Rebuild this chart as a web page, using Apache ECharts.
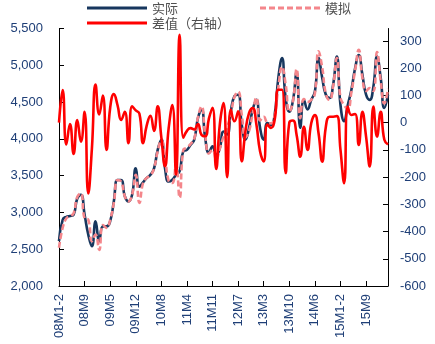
<!DOCTYPE html>
<html><head><meta charset="utf-8">
<script src="https://cdn.jsdelivr.net/npm/echarts@6/dist/echarts.min.js"></script>
<style>html,body{margin:0;padding:0;background:#fff}#c{width:435px;height:344px}</style>
</head><body><div id="c"></div>
<script>
// categories: monthly, Jan-Feb combined as M1-2
const years = ['08','09','10','11','12','13','14','15','16'];
const months = ['M1-2','M3','M4','M5','M6','M7','M8','M9','M10','M11','M12'];
const categories = [];
for (const y of years) for (const m of months) categories.push(y + m);
categories.length = 91; // 08M1-2 .. 16M4

const actual = [2610,2900,2940,2950,2970,3190,3240,2970,2700,2540,2880,2610,2810,2810,2880,3150,3440,3440,3220,3150,3240,3600,3350,3410,3470,3510,3600,3850,3990,3600,3420,3445,3510,3560,3830,3850,3920,3990,4280,4400,4010,3810,3900,3780,3875,4100,4060,4370,4580,4600,4190,3990,4150,4400,4530,4150,3990,4215,4190,4330,4830,5100,4555,4370,4520,4910,4150,4530,4400,4530,4645,5100,4830,4600,4555,4740,5120,4460,4240,4460,4670,4960,5140,4870,4600,4530,4710,5120,4830,4420,4600];
const simulated = [2520,2790,2920,2950,2990,3210,3260,2920,2900,2610,2700,2490,2830,2790,2900,3130,3440,3420,3220,3150,3240,3510,3130,3400,3470,3500,3600,3830,3980,3750,3430,3400,3650,3200,3850,3880,3930,4000,4290,4440,4050,3800,3850,3720,3870,4030,4150,4330,4570,4640,4330,4020,4110,4350,4560,4250,4300,4220,4210,4320,4700,4980,4740,4370,4510,4950,4280,4540,4500,4530,4620,5190,4970,4610,4530,4720,5100,4560,4460,4400,4640,4930,5210,4830,4650,4690,4650,5180,4790,4480,4680];
const difference = [0,120,-80,-5,-115,10,-70,40,-260,-95,140,30,100,-100,55,105,65,10,40,-75,60,45,33,-75,-10,25,-30,60,-55,-160,-20,65,-190,323,-55,-30,-20,-25,-5,-45,-50,15,55,-170,-5,72,-200,48,5,42,-142,-32,36,54,-7,-105,-142,-7,-19,11,121,121,-185,0,8,-45,-125,-15,-100,-2,28,-39,-143,-15,22,22,24,-100,-222,59,28,32,-82,40,-51,-161,59,-51,40,-63,-80];

const leftTicks = [2000,2500,3000,3500,4000,4500,5000,5500];
const rightTicks = [-600,-500,-400,-300,-200,-100,0,100,200,300];

const labelColor = '#1F3F77';
const font = 'Liberation Sans, Arial, sans-serif';
const fmt = v => String(v).replace(/\B(?=(\d{3})+(?!\d))/g, ',');

const solidIcon = 'path://M0,0L60,0L60,3L0,3Z';
const dashIcon = 'path://M0,0h6v3h-6z M9,0h6v3h-6z M18,0h6v3h-6z M27,0h6v3h-6z M36,0h6v3h-6z M45,0h6v3h-6z M54,0h6v3h-6z';

const chart = echarts.init(document.getElementById('c'), null, {renderer:'canvas'});
const legendBase = {padding:0, itemWidth:60, itemHeight:3, itemGap:10,
  textStyle:{fontSize:13, color:'#505050', fontFamily:'Noto Sans CJK SC, sans-serif', lineHeight:14}};
chart.setOption({
  animation:false,
  backgroundColor:'#fff',
  grid:{left:59, right:47, top:28.5, bottom:58, containLabel:false},
  legend:[
    Object.assign({}, legendBase, {left:87, top:1, data:[{name:'实际', icon:solidIcon}]}),
    Object.assign({}, legendBase, {left:260, top:1, data:[{name:'模拟', icon:dashIcon}]}),
    Object.assign({}, legendBase, {left:87, top:16, data:[{name:'差值（右轴）', icon:solidIcon}]})
  ],
  xAxis:{
    type:'category', data:categories, boundaryGap:false,
    axisLine:{onZero:false, lineStyle:{color:'#000', width:1}},
    axisTick:{inside:true, interval:6, length:5, lineStyle:{color:'#000'}},
    axisLabel:{interval:6, rotate:90, margin:8, color:labelColor, fontSize:13, fontFamily:font},
    splitLine:{show:false}
  },
  yAxis:[
    {type:'value', min:2000, max:5500, interval:500, position:'left',
     axisLine:{show:true, onZero:false, lineStyle:{color:'#000'}},
     axisTick:{show:true, inside:true, length:5, lineStyle:{color:'#000'}},
     axisLabel:{margin:16, color:labelColor, fontSize:13, fontFamily:font, formatter:fmt},
     splitLine:{show:false}},
    {type:'value', min:-600, max:346, interval:100, position:'right',
     axisLine:{show:true, onZero:false, lineStyle:{color:'#000'}},
     axisTick:{show:true, inside:true, length:5, lineStyle:{color:'#000'}, customValues:rightTicks},
     axisLabel:{margin:12, color:labelColor, fontSize:13, fontFamily:font, customValues:rightTicks},
     splitLine:{show:false}}
  ],
  series:[
    {name:'实际', type:'line', data:actual, yAxisIndex:0, smooth:0.5, symbol:'none',
     lineStyle:{color:'#17375E', width:2.6}, itemStyle:{color:'#17375E'}, z:2},
    {name:'模拟', type:'line', data:simulated, yAxisIndex:0, smooth:0.5, symbol:'none',
     lineStyle:{color:'#F4868B', width:2.6, type:[6,3]}, itemStyle:{color:'#F4868B'}, z:3},
    {name:'差值（右轴）', type:'line', data:difference, yAxisIndex:1, smooth:0.5, symbol:'none',
     lineStyle:{color:'#FF0000', width:2.6}, itemStyle:{color:'#FF0000'}, z:4}
  ]
});
</script></body></html>
